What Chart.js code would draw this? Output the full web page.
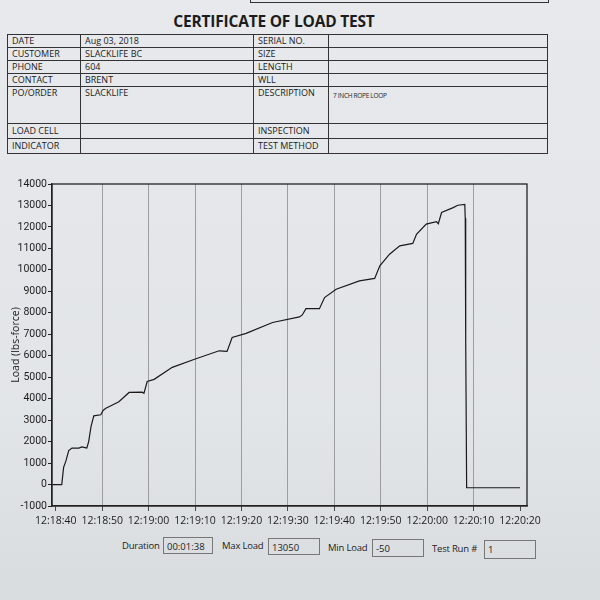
<!DOCTYPE html>
<html lang="en">
<head>
<meta charset="UTF-8">
<title>Certificate of Load Test</title>
<script src="https://cdn.jsdelivr.net/npm/chart.js"></script>
<style>
  body { margin: 0; width: 600px; height: 600px; overflow: hidden; position: relative;
         background: linear-gradient(#e7e9ec, #e2e5e8 70%, #d9dcdf); font-family: "Open Sans", sans-serif; color: #1c1c1c; }
  .topbox { position: absolute; left: 250px; top: -4px; width: 297px; height: 5px; border: 1px solid #333; }
  .titulo { position: absolute; left: 0; width: 548px; top: 10px; text-align: center; font-weight: bold; font-size: 15.5px; letter-spacing: -0.2px; }
  table { position: absolute; left: 7px; top: 34px; width: 541px; border-collapse: collapse; font-size: 9px; }
  td { border: 1px solid #333; padding: 0 0 0 4px; height: 12px; line-height: 12px; vertical-align: top; }
  .c1 { width: 68px; } .c2 { width: 168px; } .c3 { width: 70px; }
  .small { font-size: 6.5px; letter-spacing: -0.3px; }
  .chartBox { position: absolute; left: 0; top: 170px; width: 560px; height: 362px; }
  .stat { position: absolute; top: 537px; font-size: 9.5px; letter-spacing: -0.2px; line-height: 18px; }
  .box { position: absolute; top: 537px; height: 17px; border: 1px solid #777; font-size: 9.5px; line-height: 17px; padding-left: 3px; box-sizing: border-box; }
</style>
</head>
<body>
  <div class="topbox"></div>
  <div class="titulo">CERTIFICATE OF LOAD TEST</div>
  <table>
    <tr><td class="c1">DATE</td><td class="c2">Aug 03, 2018</td><td class="c3">SERIAL NO.</td><td></td></tr>
    <tr><td>CUSTOMER</td><td>SLACKLIFE BC</td><td>SIZE</td><td></td></tr>
    <tr><td>PHONE</td><td>604</td><td>LENGTH</td><td></td></tr>
    <tr><td>CONTACT</td><td>BRENT</td><td>WLL</td><td></td></tr>
    <tr><td style="height:36px">PO/ORDER</td><td>SLACKLIFE</td><td>DESCRIPTION</td><td class="small" style="padding-top:3px">7 INCH ROPE LOOP</td></tr>
    <tr><td style="line-height:14px;height:13px">LOAD CELL</td><td></td><td style="line-height:14px">INSPECTION</td><td></td></tr>
    <tr><td style="line-height:14px;height:13px">INDICATOR</td><td></td><td style="line-height:14px">TEST METHOD</td><td></td></tr>
  </table>

  <div class="chartBox"><canvas id="grafico"></canvas></div>

  <div class="stat" style="left:122px">Duration</div>
  <div class="box" style="left:163px;width:50px">00:01:38</div>
  <div class="stat" style="left:222px">Max Load</div>
  <div class="box" style="left:268px;width:52px;top:538px">13050</div>
  <div class="stat" style="left:328px;top:539px">Min Load</div>
  <div class="box" style="left:372px;width:52px;top:539px;height:18px">-50</div>
  <div class="stat" style="left:432px;top:540px">Test Run #</div>
  <div class="box" style="left:484px;width:52px;top:540px;height:19px">1</div>

<script>
  // segundos desde 12:18:40 e carga
  var tempoSeg = [-0.8, 1.3, 1.7, 2.2, 2.8, 3.5, 5.0, 5.6, 6.3, 6.7, 7.1, 7.6, 8.2, 9.7, 10.2, 10.8, 13.6, 15.8,
    18.6, 19.0, 19.7, 21.2, 25.1, 30.2, 35.2, 36.9, 38.0, 41.0, 46.7, 52.5, 53.1, 53.9, 56.8, 57.9, 60.4, 65.4,
    68.7, 69.8, 71.9, 74.1, 76.9, 77.7, 79.8, 82.0, 82.4, 83.1, 85.6, 86.6, 88.1, 88.2, 88.3, 88.5, 100.0];
  var cargaLbs = [0, 0, 800, 1100, 1580, 1700, 1700, 1750, 1720, 1700, 2000, 2700, 3200, 3250, 3450, 3550, 3860, 4290,
    4300, 4250, 4800, 4900, 5460, 5860, 6230, 6200, 6850, 7040, 7550, 7810, 7900, 8190, 8190, 8710, 9100, 9490,
    9600, 10190, 10730, 11120, 11230, 11660, 12130, 12250, 12150, 12670, 12900, 13010, 13050, 12400, 6700, -150, -150];
  var ticksX = [0, 10, 20, 30, 40, 50, 60, 70, 80, 90, 100];
  var labelsX = ['12:18:40', '12:18:50', '12:19:00', '12:19:10', '12:19:20', '12:19:30', '12:19:40',
    '12:19:50', '12:20:00', '12:20:10', '12:20:20'];

  var pontos = [];
  for (var i = 0; i < tempoSeg.length; i++) {
    pontos.push({ x: tempoSeg[i], y: cargaLbs[i] });
  }

  // moldura em volta da area do grafico
  var moldura = {
    id: 'moldura',
    afterDraw: function (chart) {
      var a = chart.chartArea, ctx = chart.ctx;
      ctx.save();
      ctx.strokeStyle = '#222';
      ctx.lineWidth = 1.3;
      ctx.strokeRect(a.left, a.top, a.right - a.left, a.bottom - a.top);
      ctx.restore();
    }
  };

  var fonte = { family: '"Open Sans", sans-serif', size: 10.5 };
  var fonteY = { family: 'Roboto, sans-serif', size: 10.5 };

  new Chart(document.getElementById('grafico'), {
    type: 'line',
    data: {
      datasets: [{
        data: pontos,
        borderColor: '#1a1a1a',
        borderWidth: 1.2,
        pointRadius: 0,
        tension: 0,
        fill: false
      }]
    },
    options: {
      animation: false,
      responsive: true,
      maintainAspectRatio: false,
      layout: { padding: { top: 14, right: 33, left: 0, bottom: 0 } },
      plugins: { legend: { display: false }, tooltip: { enabled: false } },
      scales: {
        x: {
          type: 'linear',
          min: -0.8,
          max: 101.5,
          afterBuildTicks: function (scale) {
            scale.ticks = ticksX.map(function (v) { return { value: v }; });
          },
          afterFit: function (scale) { scale.height = 26; },
          ticks: {
            color: '#1c1c1c', font: fonte, padding: 4, maxRotation: 0, autoSkip: false,
            callback: function (v) { return labelsX[ticksX.indexOf(v)]; }
          },
          grid: {
            color: function (c) { return (c.tick && c.tick.value > 5 && c.tick.value < 95) ? '#8c8c8c' : 'rgba(0,0,0,0)'; },
            tickColor: '#222',
            lineWidth: 0.8,
            tickLength: 5
          },
          border: { color: '#222', width: 1.3 }
        },
        y: {
          min: -1000,
          max: 14000,
          afterFit: function (scale) { scale.width = 52; },
          ticks: {
            stepSize: 1000, color: '#1c1c1c', font: fonteY, padding: 1,
            callback: function (v) { return String(v); }
          },
          grid: { drawOnChartArea: false, color: '#222', tickLength: 4 },
          border: { color: '#222', width: 1.3 },
          title: { display: true, text: 'Load (lbs-force)', color: '#1c1c1c', font: fonte, padding: { top: 10, bottom: 0 } }
        }
      }
    },
    plugins: [moldura]
  });
</script>
</body>
</html>
